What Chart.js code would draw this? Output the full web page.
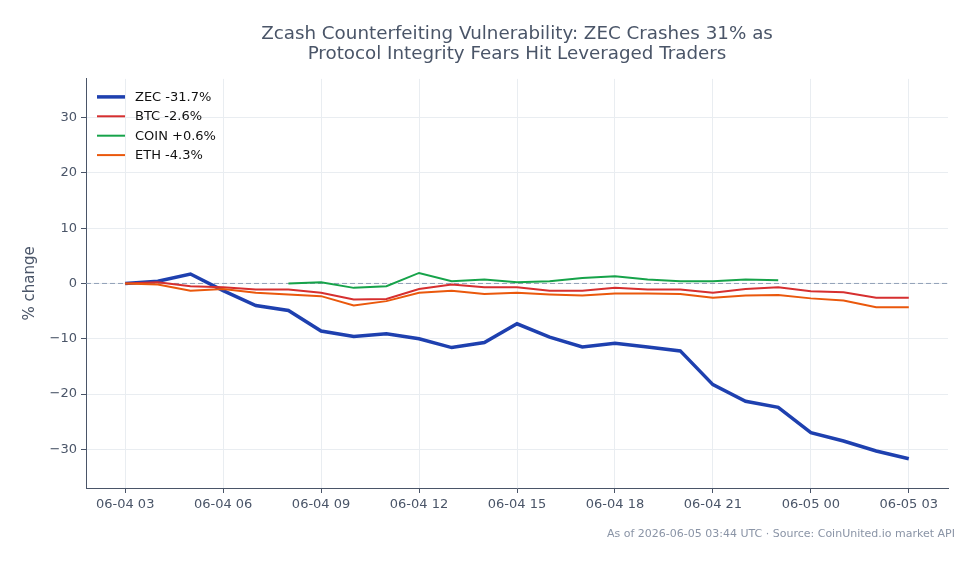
<!DOCTYPE html>
<html lang="en">
<head>
    <meta charset="UTF-8">
    <title>ZEC crash</title>
    <script src="https://cdn.jsdelivr.net/npm/chart.js"></script>
    <style>
        body {
            margin: 0;
            padding: 0;
            background: #fff;
        }
        .wrap {
            width: 979px;
            height: 564px;
        }
    </style>
</head>
<body>
<div class="wrap">
    <canvas id="zecChart" width="979" height="564"></canvas>
</div>

<script>
    // hourly timestamps (UTC)
    var times = ['06-04 03', '06-04 04', '06-04 05', '06-04 06', '06-04 07', '06-04 08', '06-04 09',
        '06-04 10', '06-04 11', '06-04 12', '06-04 13', '06-04 14', '06-04 15', '06-04 16',
        '06-04 17', '06-04 18', '06-04 19', '06-04 20', '06-04 21', '06-04 22', '06-04 23',
        '06-05 00', '06-05 01', '06-05 02', '06-05 03'];

    // % change since 06-04 03
    var zec = [0, 0.4, 1.7, -1.3, -4.0, -4.9, -8.6, -9.6, -9.1, -10.0, -11.6, -10.7, -7.3,
        -9.7, -11.5, -10.8, -11.5, -12.2, -18.3, -21.3, -22.4, -27.0, -28.5, -30.3, -31.7];
    var btc = [0, 0.2, -0.5, -0.7, -1.1, -1.1, -1.7, -2.9, -2.8, -1.0, -0.2, -0.7, -0.7,
        -1.3, -1.3, -0.8, -1.1, -1.1, -1.7, -1.0, -0.7, -1.4, -1.6, -2.6, -2.6];
    var coin = [null, null, null, null, null, 0, 0.2, -0.8, -0.5, 1.9, 0.4, 0.7, 0.2,
        0.4, 1.0, 1.3, 0.7, 0.4, 0.4, 0.7, 0.6, null, null, null, null];
    var eth = [0, -0.2, -1.3, -1.0, -1.7, -2.0, -2.3, -4.0, -3.2, -1.7, -1.3, -1.9, -1.7,
        -2.0, -2.2, -1.8, -1.8, -1.9, -2.6, -2.2, -2.1, -2.7, -3.1, -4.3, -4.3];

    var seriesNames = ['ZEC -31.7%', 'BTC -2.6%', 'COIN +0.6%', 'ETH -4.3%'];
    var xTicks = [0, 3, 6, 9, 12, 15, 18, 21, 24];
    var yTicks = [-30, -20, -10, 0, 10, 20, 30];

    function toPoints(arr) {
        var pts = [];
        for (var i = 0; i < arr.length; i++) {
            if (arr[i] !== null) pts.push({x: i, y: arr[i]});
        }
        return pts;
    }

    var textColor = '#4a5568';
    var gridColor = '#e9edf1';
    var font = 'DejaVu Sans';

    // dashed zero line, legend inside the plot, source note
    var extras = {
        id: 'extras',
        beforeDatasetsDraw: function (chart) {
            var ctx = chart.ctx, area = chart.chartArea;
            var y = chart.scales.y.getPixelForValue(0);
            ctx.save();
            ctx.strokeStyle = '#90a0b6';
            ctx.lineWidth = 1;
            ctx.setLineDash([5, 3]);
            ctx.beginPath();
            ctx.moveTo(area.left, y);
            ctx.lineTo(area.right, y);
            ctx.stroke();
            ctx.restore();
        },
        afterDraw: function (chart) {
            var ctx = chart.ctx, area = chart.chartArea;
            ctx.save();
            // legend
            ctx.font = '13px "' + font + '"';
            ctx.textBaseline = 'middle';
            ctx.textAlign = 'left';
            chart.data.datasets.forEach(function (ds, i) {
                var y = area.top + 18 + i * 19.4;
                var x = area.left + 11;
                ctx.strokeStyle = ds.borderColor;
                ctx.lineWidth = ds.borderWidth;
                ctx.beginPath();
                ctx.moveTo(x, y);
                ctx.lineTo(x + 28, y);
                ctx.stroke();
                ctx.fillStyle = '#111';
                ctx.fillText(ds.label, x + 38, y + 0.5);
            });
            // source note
            ctx.font = '11px "' + font + '"';
            ctx.fillStyle = '#8a94a6';
            ctx.textAlign = 'right';
            ctx.fillText('As of 2026-06-05 03:44 UTC \u00b7 Source: CoinUnited.io market API', 955, 534);
            ctx.restore();
        }
    };

    var ctx = document.getElementById('zecChart').getContext('2d');
    var chart = new Chart(ctx, {
        type: 'line',
        data: {
            datasets: [{
                label: seriesNames[0],
                data: toPoints(zec),
                borderColor: '#1e40af',
                backgroundColor: '#1e40af',
                borderWidth: 3.5,
                order: 4
            }, {
                label: seriesNames[1],
                data: toPoints(btc),
                borderColor: '#d62f2f',
                backgroundColor: '#d62f2f',
                borderWidth: 2,
                order: 3
            }, {
                label: seriesNames[2],
                data: toPoints(coin),
                borderColor: '#16a34a',
                backgroundColor: '#16a34a',
                borderWidth: 2,
                order: 2
            }, {
                label: seriesNames[3],
                data: toPoints(eth),
                borderColor: '#ea580c',
                backgroundColor: '#ea580c',
                borderWidth: 2,
                order: 1
            }]
        },
        plugins: [extras],
        options: {
            responsive: false,
            animation: false,
            layout: {
                padding: {left: 0, right: 31, top: 0, bottom: 0}
            },
            elements: {
                point: {radius: 0},
                line: {tension: 0}
            },
            plugins: {
                tooltip: {enabled: false},
                legend: {display: false},
                title: {
                    display: true,
                    fullSize: false,
                    text: ['Zcash Counterfeiting Vulnerability: ZEC Crashes 31% as',
                        'Protocol Integrity Fears Hit Leveraged Traders'],
                    color: textColor,
                    font: {family: font, size: 18.3, weight: 'normal', lineHeight: 1.09},
                    padding: {top: 24, bottom: 15}
                }
            },
            scales: {
                x: {
                    type: 'linear',
                    min: -1.2,
                    max: 25.2,
                    afterFit: function (scale) { scale.height = 76; },
                    afterBuildTicks: function (scale) {
                        scale.ticks = xTicks.map(function (v) { return {value: v}; });
                    },
                    grid: {color: gridColor, tickColor: textColor, tickLength: 5},
                    border: {color: textColor, width: 1},
                    ticks: {
                        color: textColor,
                        font: {family: font, size: 13},
                        padding: 4,
                        maxRotation: 0,
                        callback: function (v) { return times[v]; }
                    }
                },
                y: {
                    min: -37,
                    max: 37,
                    afterFit: function (scale) { scale.width = 86; },
                    afterBuildTicks: function (scale) {
                        scale.ticks = yTicks.map(function (v) { return {value: v}; });
                    },
                    grid: {color: gridColor, tickColor: textColor, tickLength: 5},
                    border: {color: textColor, width: 1},
                    ticks: {
                        color: textColor,
                        font: {family: font, size: 13},
                        padding: 4,
                        callback: function (v) { return v < 0 ? '\u2212' + Math.abs(v) : String(v); }
                    },
                    title: {
                        display: true,
                        text: '% change',
                        color: textColor,
                        font: {family: font, size: 15},
                        padding: {top: 21, bottom: 0}
                    }
                }
            }
        }
    });
</script>
</body>
</html>
